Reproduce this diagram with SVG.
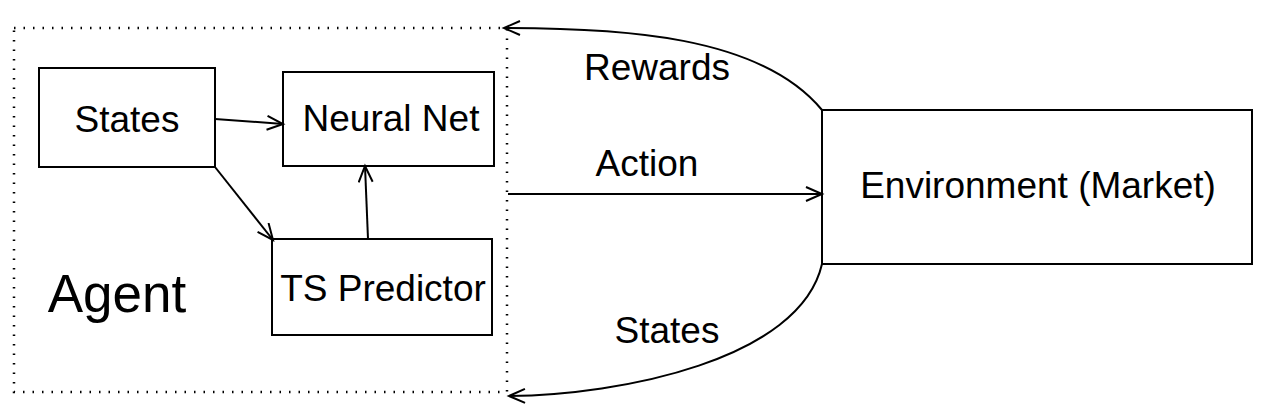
<svg xmlns="http://www.w3.org/2000/svg" width="1282" height="416" viewBox="0 0 1282 416">
<style>
.box{fill:#fff;stroke:#000;stroke-width:2}
.lbl{font-family:"Liberation Sans",Arial,sans-serif;font-size:37px;fill:#000}
.edge{fill:none;stroke:#000;stroke-width:2}
</style>
<defs>
<marker id="arr" markerUnits="userSpaceOnUse" markerWidth="20" markerHeight="20" refX="17" refY="8" orient="auto">
<path d="M1,1 L17,8 L1,15" fill="none" stroke="#000" stroke-width="2"/>
</marker>
</defs>
<rect x="0" y="0" width="1282" height="416" fill="#fff"/>
<g id="agent">
<rect x="14" y="28" width="493" height="364" fill="none" stroke="#000" stroke-width="2.5" stroke-dasharray="1.5,8"/>
<text class="lbl" x="117" y="312" text-anchor="middle" style="font-size:53px">Agent</text>
</g>
<g id="states">
<rect class="box" x="39" y="68" width="176" height="99"/>
<text class="lbl" x="127" y="132" text-anchor="middle">States</text>
</g>
<g id="neuralnet">
<rect class="box" x="283" y="72" width="211" height="94"/>
<text class="lbl" x="391" y="131" text-anchor="middle">Neural Net</text>
</g>
<g id="tspredictor">
<rect class="box" x="272" y="239" width="220" height="96"/>
<text class="lbl" x="383" y="301" text-anchor="middle">TS Predictor</text>
</g>
<g id="environment">
<rect class="box" x="822" y="110" width="430" height="154"/>
<text class="lbl" x="1038" y="198" text-anchor="middle">Environment (Market)</text>
</g>
<g id="connectors">
<line class="edge" x1="215" y1="119" x2="283" y2="124" marker-end="url(#arr)"/>
<line class="edge" x1="215" y1="167" x2="273" y2="240" marker-end="url(#arr)"/>
<line class="edge" x1="368" y1="239" x2="365" y2="166" marker-end="url(#arr)"/>
<line class="edge" x1="508" y1="194" x2="822" y2="194" marker-end="url(#arr)"/>
<path class="edge" d="M822,110 C760,35 620,28 504,28" marker-end="url(#arr)"/>
<path class="edge" d="M822,264 C800,360 620,395 509,396" marker-end="url(#arr)"/>
<text class="lbl" x="657" y="80" text-anchor="middle">Rewards</text>
<text class="lbl" x="647" y="176" text-anchor="middle">Action</text>
<text class="lbl" x="667" y="343" text-anchor="middle">States</text>
</g>
</svg>
